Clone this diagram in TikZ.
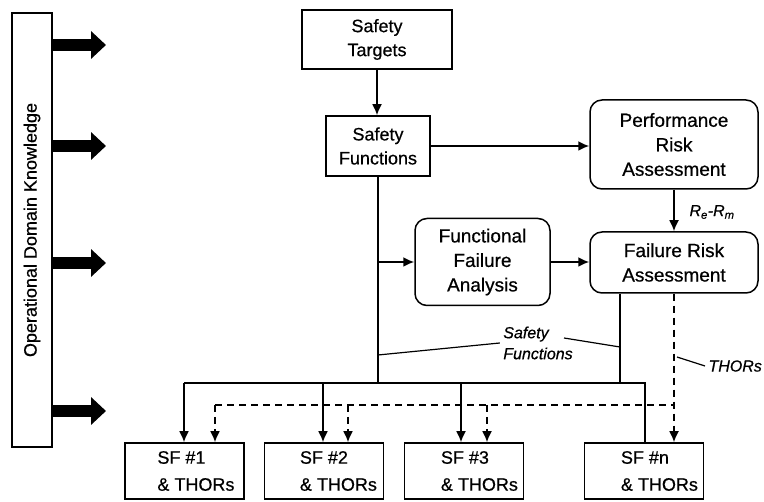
\documentclass[tikz,border=0pt]{standalone}
\usepackage{fontspec}
\setmainfont{Liberation Sans}[FakeBold=0.6]
\usetikzlibrary{arrows.meta}
\begin{document}
\begin{tikzpicture}[x=1pt,y=-1pt,
  every node/.style={font=\fontsize{18}{24}\selectfont},
  box/.style={draw,line width=1.5pt,inner sep=0pt,align=center},
  rbox/.style={box,rounded corners=12pt,font=\fontsize{19}{24.5}\selectfont},
  tip/.style={-{Latex[length=11pt,width=10pt]}},
  link/.style={line width=1.8pt},
  flow/.style={link,tip},
  thor/.style={line width=1.8pt,dash pattern=on 7pt off 5pt},
  tag/.style={font=\fontsize{16}{21}\selectfont\itshape,align=left},
  leader/.style={line width=1.2pt},
  sfbox/.style={box,minimum width=119pt,minimum height=56pt},
  sftext/.style={anchor=west,align=left,inner sep=0pt,font=\fontsize{18}{27}\selectfont},
  knowledge/.style={line width=12pt,-{Triangle[length=15pt,width=27pt]}}
]
\useasboundingbox (0,0) rectangle (764,502);

% knowledge column and its four feeds
\node[box,rotate=90,minimum width=434pt,minimum height=40pt] (odk) at (32,230) {Operational Domain Knowledge};
\foreach \yy [count=\i] in {45,146,263,411} {
  \coordinate (k\i) at (106,\yy);
  \draw[knowledge] (odk.south |- k\i) -- (k\i);
}

% main process boxes
\node[box,minimum width=150pt,minimum height=59pt] (st) at (377,39.5) {Safety\\Targets};
\node[box,minimum width=104pt,minimum height=60pt] (sf) at (378,146) {Safety\\Functions};
\node[rbox,minimum width=168pt,minimum height=89pt] (pra) at (674,144.5) {Performance\\Risk\\Assessment};
\node[rbox,minimum width=168pt,minimum height=61pt] (fra) at (674,262.5) {Failure Risk\\Assessment};
\node[rbox,minimum width=135pt,minimum height=87pt] (ffa) at (482.5,262) {Functional\\Failure\\Analysis};

% output boxes
\node[sfbox] (sf1) at (184.5,471) {};
\node[sfbox] (sf2) at (324,471) {};
\node[sfbox] (sf3) at (464,471) {};
\node[sfbox] (sfn) at (644,471) {};
\node[sftext] (sf1t) at ([xshift=33pt]sf1.west) {SF \#1\\\& THORs};
\node[sftext] (sf2t) at ([xshift=36pt]sf2.west) {SF \#2\\\& THORs};
\node[sftext] (sf3t) at ([xshift=37pt]sf3.west) {SF \#3\\\& THORs};
\node[sftext] (sfnt) at ([xshift=37pt]sfn.west) {SF \#n\\\& THORs};

% upper flow
\draw[flow] (st.south) -- (st.south |- sf.north);
\draw[flow] (sf.east) -- (sf.east -| pra.west);
\draw[flow] (pra.south) -- (fra.north);
\node[tag,anchor=west] (rlab) at (686,212) {R\textsubscript{e}-R\textsubscript{m}};

% distribution of safety functions (solid)
\coordinate (bus) at (378,383);
\coordinate (b1) at (184,383);
\coordinate (b2) at (323,383);
\coordinate (b3) at (461,383);
\coordinate (bn) at (645,383);
\draw[link] (sf.south) -- (bus);
\draw[flow] (sf.south |- ffa.west) -- (ffa.west);
\draw[flow] (ffa.east) -- (ffa.east -| fra.west);
\draw[link] ([xshift=-54pt]fra.south) |- (bn) -- (bn |- sfn.north);
\draw[link] (b1) -- (bn);
\draw[flow] (b1) -- (b1 |- sf1.north);
\draw[flow] (b2) -- (b2 |- sf2.north);
\draw[flow] (b3) -- (b3 |- sf3.north);

% distribution of THORs (dashed)
\coordinate (d1) at (215,405);
\coordinate (d2) at (348,405);
\coordinate (d3) at (487,405);
\coordinate (dn) at (674,405);
\draw[thor] (d1) -- (dn);
\draw[thor,tip] (fra.south) -- (fra.south |- sfn.north);
\draw[thor,tip] (d1) -- (d1 |- sf1.north);
\draw[thor,tip] (d2) -- (d2 |- sf2.north);
\draw[thor,tip] (d3) -- (d3 |- sf3.north);

% labels with leader lines
\node[tag] (sflab) at (538,343) {Safety\\Functions};
\coordinate (l1a) at (378,355);
\coordinate (l2a) at (564,338);
\coordinate (l2b) at (620,347);
\draw[leader] (l1a) -- (sflab.west);
\draw[leader] (l2a) -- (l2b);
\node[tag,anchor=west] (thlab) at (705,366) {THORs};
\coordinate (l3a) at (677,357);
\draw[leader] (l3a) -- (thlab.west);
\end{tikzpicture}
\end{document}
